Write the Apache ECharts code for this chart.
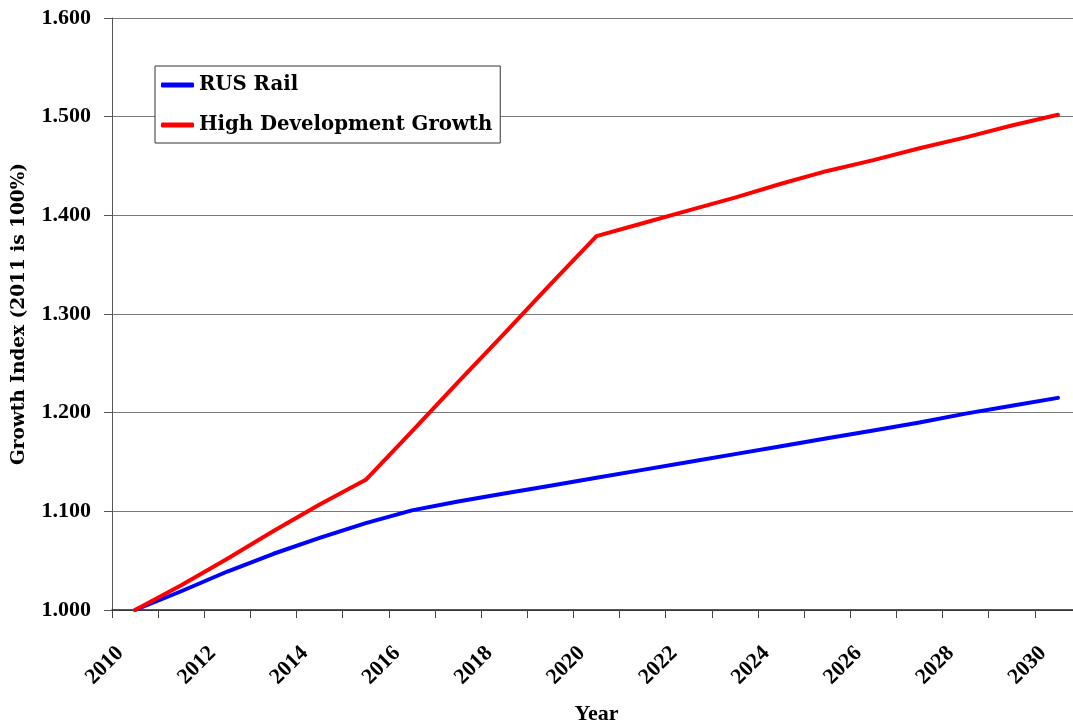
<!DOCTYPE html>
<html>
<head>
<meta charset="utf-8">
<title>Growth Index</title>
<script src="https://cdn.jsdelivr.net/npm/echarts@6/dist/echarts.min.js"></script>
<style>
  html, body { margin: 0; padding: 0; background: #fff; }
  #chart { width: 1073px; height: 727px; }
</style>
</head>
<body>
<div id="chart"></div>
<script>
// Years on the category axis
const years = ['2010', '2011', '2012', '2013', '2014', '2015', '2016', '2017', '2018', '2019', '2020',
               '2021', '2022', '2023', '2024', '2025', '2026', '2027', '2028', '2029', '2030'];

// Growth index per year (2011 = 100%)
const rusRail = [1.000, 1.019, 1.039, 1.057, 1.073, 1.088, 1.101, 1.110, 1.118, 1.126, 1.134,
                 1.142, 1.150, 1.158, 1.166, 1.174, 1.182, 1.190, 1.199, 1.207, 1.215];
const highDevelopmentGrowth = [1.000, 1.025, 1.052, 1.080, 1.107, 1.132, 1.181, 1.231, 1.280, 1.330, 1.379,
                               1.392, 1.405, 1.418, 1.432, 1.445, 1.456, 1.468, 1.479, 1.491, 1.502];

// Value axis range and step
const yMin = 1.0;
const yMax = 1.6;
const yStep = 0.1;

const seriesNames = ['RUS Rail', 'High Development Growth'];

const tickFont = { fontFamily: 'Liberation Serif', fontWeight: 'bold', fontSize: 22, color: '#000' };

const chart = echarts.init(document.getElementById('chart'), null, { renderer: 'canvas' });

chart.setOption({
  animation: false,
  backgroundColor: '#fff',
  grid: {
    left: 112, top: 18, bottom: 117, right: -8,
    containLabel: false,
    outerBoundsMode: 'none'
  },
  legend: {
    orient: 'vertical',
    left: 155, top: 66,
    padding: [9, 8, 8, 6],
    itemGap: 20,
    itemWidth: 33,
    itemHeight: 5,
    icon: 'roundRect',
    backgroundColor: '#fff',
    borderColor: '#333',
    borderWidth: 1,
    borderRadius: 0,
    textStyle: { fontFamily: 'DejaVu Serif', fontWeight: 'bold', fontSize: 19.7, color: '#000' },
    data: seriesNames
  },
  xAxis: {
    type: 'category',
    data: years,
    boundaryGap: true,
    name: 'Year',
    nameLocation: 'middle',
    nameGap: 93,
    nameTextStyle: { fontFamily: 'Liberation Serif', fontWeight: 'bold', fontSize: 22, color: '#000' },
    axisLine: { show: true, lineStyle: { color: '#222', width: 1.5 } },
    axisTick: { show: true, interval: 0, length: 8, lineStyle: { color: '#444' } },
    axisLabel: Object.assign({}, tickFont, {
      interval: 1,
      rotate: 45,
      margin: 25,
      padding: [0, 21, 0, 0]
    }),
    splitLine: { show: false }
  },
  yAxis: {
    type: 'value',
    min: yMin,
    max: yMax,
    interval: yStep,
    name: 'Growth Index (2011 is 100%)',
    nameLocation: 'middle',
    nameGap: 83,
    nameTextStyle: { fontFamily: 'DejaVu Serif', fontWeight: 'bold', fontSize: 18.5, color: '#000' },
    axisLine: { show: true, lineStyle: { color: '#555', width: 1 } },
    axisTick: { show: true, inside: false, length: 8, lineStyle: { color: '#555' } },
    axisLabel: Object.assign({}, tickFont, {
      margin: 21,
      formatter: v => v.toFixed(3)
    }),
    splitLine: { show: true, lineStyle: { color: '#7a7a7a', width: 1 } }
  },
  series: [
    {
      name: seriesNames[0],
      type: 'line',
      data: rusRail,
      symbol: 'none',
      smooth: false,
      color: '#0000ff',
      lineStyle: { color: '#0000ff', width: 4, cap: 'round', join: 'round' },
      z: 3
    },
    {
      name: seriesNames[1],
      type: 'line',
      data: highDevelopmentGrowth,
      symbol: 'none',
      smooth: false,
      color: '#ff0000',
      lineStyle: { color: '#ff0000', width: 4, cap: 'round', join: 'round' },
      z: 4
    }
  ]
});
</script>
</body>
</html>
